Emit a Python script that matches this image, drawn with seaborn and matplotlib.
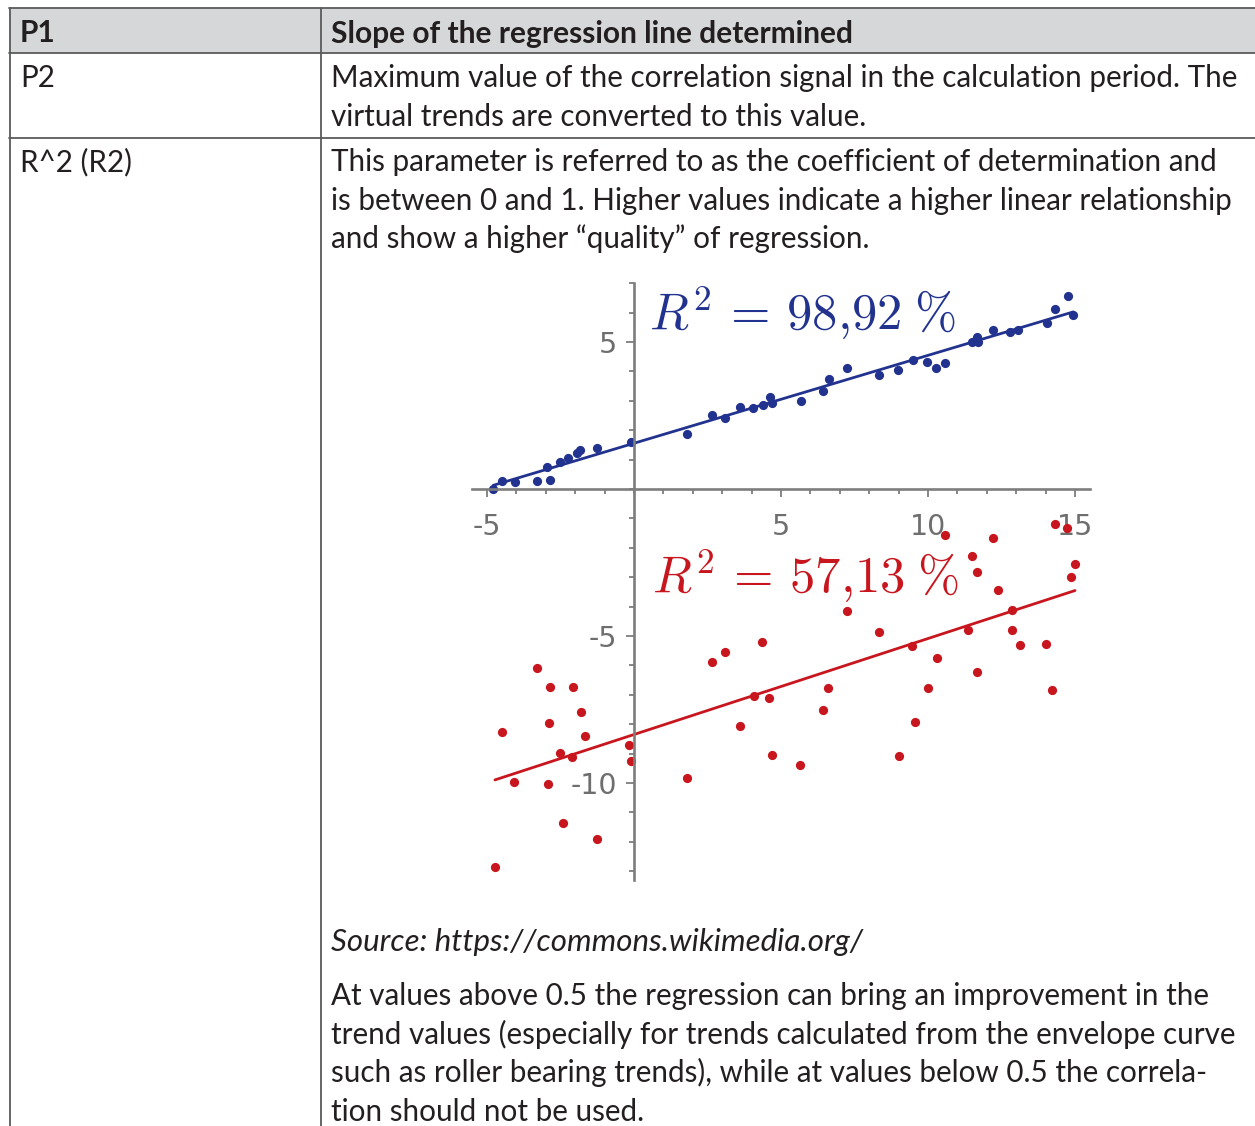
import matplotlib
matplotlib.use("Agg")
import matplotlib.pyplot as plt
import numpy as np
import pandas as pd
import seaborn as sns
from matplotlib.lines import Line2D
from matplotlib.patches import Rectangle
from matplotlib.ticker import FixedLocator, MultipleLocator

# ---------------- data ----------------
blue_x = [-4.79, -4.48, -4.05, -3.31, -2.86, -2.95, -2.52, -2.23, -1.95, -1.84,
          -1.27, -0.10, 1.81, 2.64, 3.10, 3.61, 4.06, 4.40, 4.63, 4.68,
          5.67, 6.44, 6.64, 7.23, 8.34, 8.99, 9.50, 9.96, 10.27, 10.58,
          11.49, 11.66, 11.69, 12.22, 12.79, 13.07, 14.04, 14.32, 14.77, 14.94]
blue_y = [0.00, 0.27, 0.25, 0.27, 0.31, 0.76, 0.93, 1.04, 1.21, 1.33,
          1.38, 1.59, 1.87, 2.52, 2.40, 2.80, 2.74, 2.86, 3.14, 2.91,
          3.00, 3.34, 3.73, 4.13, 3.88, 4.05, 4.39, 4.33, 4.10, 4.27,
          5.01, 5.18, 5.00, 5.41, 5.35, 5.41, 5.64, 6.11, 6.56, 5.92]

red_x = [-4.73, -4.48, -4.07, -3.31, -2.86, -2.89, -2.94, -2.43, -2.52, -2.12,
         -2.09, -1.81, -1.68, -1.27, -0.16, -0.11, 1.81, 2.64, 3.10, 4.36,
         4.08, 4.59, 3.61, 4.70, 5.65, 6.61, 6.42, 7.23, 8.34, 9.01,
         9.56, 9.44, 10.01, 10.30, 10.58, 11.37, 11.49, 11.66, 11.68, 12.20,
         12.37, 12.85, 12.87, 13.13, 14.01, 14.21, 14.32, 14.72, 15.00, 14.85]
red_y = [-12.85, -8.28, -9.96, -6.10, -6.72, -7.95, -10.03, -11.37, -8.99, -9.13,
         -6.74, -7.60, -8.40, -11.90, -8.71, -9.24, -9.84, -5.87, -5.53, -5.22,
         -7.03, -7.12, -8.06, -9.05, -9.39, -6.76, -7.52, -4.15, -4.86, -9.08,
         -7.91, -5.34, -6.76, -5.74, -1.56, -4.78, -2.27, -2.81, -6.23, -1.66,
         -3.44, -4.12, -4.80, -5.31, -5.28, -6.82, -1.19, -1.34, -2.56, -2.98]

x_major_ticks = [-5, 5, 10, 15]
y_major_ticks = [-10, -5, 5]
blue_label = r"$R^2\,=\,98{,}92\;\%$"
red_label = r"$R^2\,=\,57{,}13\;\%$"

header_left = "P1"
header_right = "Slope of the regression line determined"
row1_left = "P2"
row1_lines = ["Maximum value of the correlation signal in the calculation period. The",
              "virtual trends are converted to this value."]
row2_left = "R^2 (R2)"
row2_lines = ["This parameter is referred to as the coefficient of determination and",
              "is between 0 and 1. Higher values indicate a higher linear relationship",
              "and show a higher \u201cquality\u201d of regression."]
source_line = "Source: https://commons.wikimedia.org/"
final_lines = ["At values above 0.5 the regression can bring an improvement in the",
               "trend values (especially for trends calculated from the envelope curve",
               "such as roller bearing trends), while at values below 0.5 the correla-",
               "tion should not be used."]

# ---------------- style ----------------
sns.set_theme(style="white")
plt.rcParams["font.family"] = ["Lato", "DejaVu Sans"]
plt.rcParams["mathtext.fontset"] = "cm"
plt.rcParams["axes.unicode_minus"] = False

BLUE = "#22338f"
RED = "#c8161e"
TXT = "#231f20"
AXC = "#7d7d7d"
LINEC = "#5b5b5b"

W, H = 1255, 1126
fig = plt.figure(figsize=(W / 100, H / 100), dpi=100)
fig.patch.set_facecolor("white")


def fx(px):
    return px / W


def fy(py):
    return 1 - py / H


renderer = fig.canvas.get_renderer()


def fit_size(s, target, **kw):
    t = fig.text(0, 0, s, fontsize=20, **kw)
    w = t.get_window_extent(renderer).width
    t.remove()
    return 20 * target / w


body_size = fit_size(row1_lines[0], 909)
head_size = fit_size(header_right, 522, fontweight="bold")
src_size = fit_size(source_line, 531, fontstyle="italic")

# ---------------- table ----------------
fig.add_artist(Rectangle((fx(9), fy(53)), fx(1255) - fx(9), (53 - 8) / H,
                         transform=fig.transFigure, facecolor="#d6d7d9",
                         edgecolor="none", zorder=0))


def hline(py, x0=9, x1=1255):
    fig.add_artist(Line2D([fx(x0), fx(x1)], [fy(py), fy(py)],
                          transform=fig.transFigure, color=LINEC, lw=1.3))


def vline(px, y0=8, y1=1126):
    fig.add_artist(Line2D([fx(px), fx(px)], [fy(y0), fy(y1)],
                          transform=fig.transFigure, color=LINEC, lw=1.3))


hline(8)
hline(53)
hline(137.5)
vline(9.5)
vline(320.5)


def put(px, py, s, size, **kw):
    fig.text(fx(px), fy(py), s, fontsize=size, color=TXT, ha="left",
             va="baseline", **kw)


put(20, 42.5, header_left, head_size, fontweight="bold")
put(331, 42.5, header_right, head_size, fontweight="bold")
put(20, 87, row1_left, body_size)
for i, s in enumerate(row1_lines):
    put(331, 87 + i * 38.6, s, body_size)
put(20, 171, row2_left, body_size)
for i, s in enumerate(row2_lines):
    put(331, 171 + i * 38.6, s, body_size)
put(331, 951, source_line, src_size, fontstyle="italic")
for i, s in enumerate(final_lines):
    put(331, 1005 + i * 38.6, s, body_size)

# ---------------- chart ----------------
px_per_unit = 29.4
x0_px, y0_px = 634, 489
xlim = (-5.5, 15.5)
ylim = (-13.3, 7.0)
left_px = x0_px + xlim[0] * px_per_unit
top_px = y0_px - ylim[1] * px_per_unit
w_px = (xlim[1] - xlim[0]) * px_per_unit
h_px = (ylim[1] - ylim[0]) * px_per_unit
ax = fig.add_axes([fx(left_px), fy(top_px + h_px), w_px / W, h_px / H])
ax.set_facecolor("none")

sns.regplot(x=np.array(blue_x), y=np.array(blue_y), ax=ax, ci=None, color=BLUE,
            scatter_kws=dict(s=44, linewidths=0, alpha=1),
            line_kws=dict(lw=2.0))
sns.regplot(x=np.array(red_x), y=np.array(red_y), ax=ax, ci=None, color=RED,
            scatter_kws=dict(s=44, linewidths=0, alpha=1),
            line_kws=dict(lw=2.0))

ax.set_xlim(*xlim)
ax.set_ylim(*ylim)
ax.set_xlabel("")
ax.set_ylabel("")
for side in ("top", "right"):
    ax.spines[side].set_visible(False)
for side in ("left", "bottom"):
    ax.spines[side].set_position(("data", 0))
    ax.spines[side].set_color(AXC)
    ax.spines[side].set_linewidth(1.9)

ax.xaxis.set_major_locator(FixedLocator(x_major_ticks))
ax.yaxis.set_major_locator(FixedLocator(y_major_ticks))
ax.xaxis.set_minor_locator(MultipleLocator(1))
ax.yaxis.set_minor_locator(MultipleLocator(1))
ax.tick_params(which="both", direction="out", color=AXC, width=1.3,
               bottom=True, left=True)
ax.tick_params(which="major", length=5.5, labelsize=20.5, labelcolor="#6e6e6e")
ax.tick_params(which="minor", length=3.5)
ax.tick_params(axis="x", which="major", pad=12)
ax.tick_params(axis="y", which="major", pad=7)
for lab in ax.get_xticklabels() + ax.get_yticklabels():
    lab.set_family(["DejaVu Sans"])

ax.text(0.52, 5.42, blue_label, color=BLUE, fontsize=36.5, ha="left",
        va="baseline")
ax.text(0.62, -3.55, red_label, color=RED, fontsize=36.5, ha="left",
        va="baseline")

fig.savefig("out.png", dpi=100, facecolor="white")
